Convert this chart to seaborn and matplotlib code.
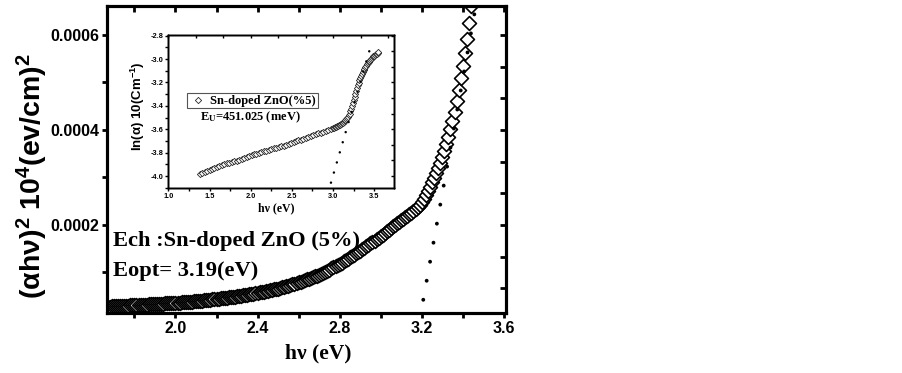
"""Tauc plot of Sn-doped ZnO (5%) with Urbach-energy inset."""
import matplotlib

matplotlib.use("Agg")
import matplotlib.pyplot as plt
import numpy as np
import seaborn as sns
from matplotlib.ticker import AutoMinorLocator, FormatStrFormatter, MultipleLocator

sns.set_theme(style="white")
SANS = ["Liberation Sans", "DejaVu Sans"]
SERIF = ["Liberation Serif", "DejaVu Serif"]
plt.rcParams["font.family"] = SANS
plt.rcParams["font.weight"] = "bold"
plt.rcParams["axes.labelweight"] = "bold"
plt.rcParams["axes.unicode_minus"] = False
for key in ("text.color", "axes.labelcolor", "xtick.color", "ytick.color"):
    plt.rcParams[key] = "black"

# ---- main panel: (alpha h nu)^2 against photon energy (eV), 0.01 eV sampling grid
main_energy = np.arange(160, 347) / 100
main_signal_e5 = [
    2.50, 2.54, 2.58, 2.62, 2.66, 2.70, 2.74, 2.78, 2.82, 2.86,
    2.90, 2.92, 2.94, 2.96, 2.98, 3.00, 3.02, 3.04, 3.06, 3.08,
    3.10, 3.12, 3.15, 3.17, 3.20, 3.22, 3.25, 3.27, 3.30, 3.32,
    3.35, 3.37, 3.40, 3.42, 3.45, 3.47, 3.50, 3.52, 3.55, 3.57,
    3.60, 3.63, 3.67, 3.70, 3.74, 3.77, 3.81, 3.84, 3.88, 3.91,
    3.95, 3.99, 4.04, 4.08, 4.13, 4.17, 4.22, 4.26, 4.31, 4.35,
    4.40, 4.46, 4.52, 4.58, 4.64, 4.70, 4.76, 4.82, 4.88, 4.94,
    5.00, 5.07, 5.14, 5.21, 5.28, 5.35, 5.42, 5.49, 5.56, 5.63,
    5.70, 5.79, 5.88, 5.97, 6.06, 6.15, 6.24, 6.33, 6.42, 6.51,
    6.60, 6.72, 6.85, 6.97, 7.10, 7.23, 7.36, 7.49, 7.62, 7.76,
    7.90, 8.05, 8.20, 8.36, 8.52, 8.68, 8.84, 9.00, 9.16, 9.33,
    9.50, 9.72, 9.94, 10.16, 10.38, 10.60, 10.84, 11.08, 11.32, 11.56,
    11.80, 12.07, 12.34, 12.62, 12.90, 13.18, 13.46, 13.74, 14.02, 14.31,
    14.60, 14.90, 15.20, 15.50, 15.80, 16.10, 16.40, 16.70, 17.00, 17.30,
    17.60, 17.96, 18.32, 18.68, 19.04, 19.40, 19.72, 20.04, 20.36, 20.68,
    21.00, 21.32, 21.64, 21.96, 22.28, 22.60, 22.98, 23.38, 23.82, 24.30,
    24.80, 25.50, 26.30, 27.15, 28.05, 29.00, 29.95, 30.95, 32.00, 33.10,
    34.30, 35.60, 37.00, 38.50, 40.10, 41.80, 43.80, 46.00, 48.40, 50.90,
    53.50, 56.30, 59.20, 62.50, 66.00, 69.50, 73.00,
]
main_signal = np.array(main_signal_e5) * 1e-5

# linear extrapolation of the absorption edge
eopt = 3.19
main_fit_slope = 2.415e-3
main_fit_energy = np.array([3.2076, 3.48])

# ---- inset: ln(alpha) against photon energy
inset_energy = np.concatenate([np.arange(138, 301, 3), np.arange(301, 356)]) / 100
inset_ln_alpha = [
    -3.980, -3.972, -3.963, -3.954, -3.945, -3.937, -3.929, -3.922, -3.915, -3.908,
    -3.900, -3.893, -3.887, -3.881, -3.875, -3.868, -3.860, -3.853, -3.845, -3.838,
    -3.830, -3.823, -3.816, -3.808, -3.800, -3.794, -3.788, -3.782, -3.776, -3.770,
    -3.764, -3.758, -3.752, -3.746, -3.740, -3.733, -3.725, -3.718, -3.710, -3.703,
    -3.695, -3.688, -3.680, -3.673, -3.665, -3.658, -3.650, -3.643, -3.635, -3.628,
    -3.620, -3.613, -3.605, -3.598, -3.590,
    -3.587, -3.584, -3.581, -3.578, -3.575, -3.571, -3.567, -3.563, -3.559, -3.555,
    -3.550, -3.544, -3.538, -3.531, -3.524, -3.515, -3.505, -3.494, -3.482, -3.468,
    -3.448, -3.425, -3.400, -3.374, -3.348, -3.322, -3.297, -3.272, -3.248, -3.225,
    -3.203, -3.182, -3.163, -3.145, -3.128, -3.112, -3.097, -3.083, -3.070, -3.058,
    -3.046, -3.035, -3.025, -3.015, -3.006, -2.998, -2.991, -2.984, -2.977, -2.971,
    -2.965, -2.959, -2.953, -2.948, -2.943,
]
inset_fit_energy = [2.974, 3.447]
inset_fit_ln = [-4.057, -2.914]


def _spines(axes, lw):
    for a in axes:
        for s in a.spines.values():
            s.set_linewidth(lw)
            s.set_color("black")
            s.set_visible(True)


fig = plt.figure(figsize=(9.03, 3.73), dpi=100)
fig.patch.set_facecolor("white")
ax = fig.add_axes([0.1182, 0.1609, 0.4422, 0.823])

sns.scatterplot(x=main_energy, y=main_signal, marker="D", s=50, facecolor="white",
                edgecolor="black", linewidth=1.2, legend=False, ax=ax, zorder=2)
ax.plot(main_fit_energy, main_fit_slope * (main_fit_energy - eopt), color="black",
        lw=2.8, linestyle=(0, (0.01, 4.96)), dash_capstyle="round", zorder=3)

ax.set_xlim(1.665, 3.611)
ax.set_ylim(1.47e-5, 6.61e-4)
ax.xaxis.set_major_locator(MultipleLocator(0.4))
ax.xaxis.set_minor_locator(MultipleLocator(0.2))
ax.yaxis.set_major_locator(MultipleLocator(0.0002))
ax.yaxis.set_minor_locator(MultipleLocator(0.0001))
ax.xaxis.set_major_formatter(FormatStrFormatter("%.1f"))
ax.yaxis.set_major_formatter(FormatStrFormatter("%.4f"))
ax.tick_params(which="both", direction="out", length=3.5, width=2, bottom=True,
               left=True, labelsize=11.5, pad=2)

ax_r = ax.twinx()
ax_r.set_ylim(ax.get_ylim())
ax_r.yaxis.set_major_locator(MultipleLocator(0.0002))
ax_r.yaxis.set_minor_locator(AutoMinorLocator(3))
ax_r.tick_params(which="both", direction="in", length=4, width=2, right=True,
                 labelright=False)
ax_t = ax.twiny()
ax_t.set_xlim(ax.get_xlim())
ax_t.xaxis.set_major_locator(MultipleLocator(0.4))
ax_t.xaxis.set_minor_locator(MultipleLocator(0.2))
ax_t.tick_params(which="both", direction="in", length=4, width=2, top=True,
                 labeltop=False)
ax_r.grid(False)
ax_t.grid(False)
_spines([ax, ax_r, ax_t], 2.2)

ax.set_xlabel("h\u03bd (eV)", family=SERIF, fontsize=15.5)
ax.xaxis.set_label_coords(0.529, -0.098)
ax.set_ylabel("(\u03b1h\u03bd)$\\mathregular{^2}$ 10$\\mathregular{^4}$(ev/cm)$\\mathregular{^2}$",
              family=SANS, fontsize=20.5)
ax.yaxis.set_label_coords(-0.143, 0.446)

ax.text(0.0165, 0.2166, "Ech :Sn-doped ZnO (5%)", transform=ax.transAxes,
        family=SERIF, fontsize=16.2, va="baseline")
ax.text(0.0165, 0.122, "Eopt= 3.19(eV)", transform=ax.transAxes,
        family=SERIF, fontsize=16.2, va="baseline")

# ---- inset
axin = fig.add_axes([0.1864, 0.4968, 0.2499, 0.4094])
axin.set_facecolor("white")
sns.scatterplot(x=inset_energy, y=inset_ln_alpha, marker="D", s=10, facecolor="white",
                edgecolor="#2a2a2a", linewidth=0.6, label="Sn-doped ZnO(%5)",
                legend=False, ax=axin, zorder=2)
axin.plot(inset_fit_energy, inset_fit_ln, color="black", lw=1.8,
          linestyle=(0, (0.01, 4.2)), dash_capstyle="round", zorder=3)

axin.set_xlim(1.0, 3.739)
axin.set_ylim(-4.10, -2.794)
axin.xaxis.set_major_locator(MultipleLocator(0.5))
axin.xaxis.set_minor_locator(MultipleLocator(0.25))
axin.yaxis.set_major_locator(MultipleLocator(0.2))
axin.yaxis.set_minor_locator(MultipleLocator(0.1))
axin.xaxis.set_major_formatter(FormatStrFormatter("%.1f"))
axin.yaxis.set_major_formatter(FormatStrFormatter("%.1f"))
axin.tick_params(which="both", direction="out", length=2, width=1, bottom=True,
                 left=True, labelsize=5.3, pad=1.5)

axin_r = axin.twinx()
axin_r.set_ylim(axin.get_ylim())
axin_r.yaxis.set_major_locator(MultipleLocator(0.4))
axin_r.yaxis.set_minor_locator(AutoMinorLocator(3))
axin_r.tick_params(which="both", direction="in", length=2, width=1, right=True,
                   labelright=False)
axin_t = axin.twiny()
axin_t.set_xlim(axin.get_xlim())
axin_t.xaxis.set_major_locator(MultipleLocator(1.0))
axin_t.xaxis.set_minor_locator(AutoMinorLocator(3))
axin_t.tick_params(which="both", direction="in", length=2, width=1, top=True,
                   labeltop=False)
axin_r.grid(False)
axin_t.grid(False)
_spines([axin, axin_r, axin_t], 1.0)

axin.set_xlabel("h\u03bd (eV)", family=SERIF, fontsize=8.5)
axin.xaxis.set_label_coords(0.477, -0.094)
axin.set_ylabel("ln(\u03b1) 10(Cm$\\mathregular{^{-1}}$)", family=SANS, fontsize=9.5)
axin.yaxis.set_label_coords(-0.096, 0.537)

leg = axin.legend(loc="upper left", bbox_to_anchor=(0.084, 0.622), borderaxespad=0,
                  frameon=True, fancybox=False, edgecolor="#555555", framealpha=1,
                  borderpad=0.15, handlelength=1.4, handletextpad=0.3, markerscale=1.0,
                  prop={"family": SERIF, "weight": "bold", "size": 9})
leg.get_frame().set_linewidth(0.8)
axin.text(0.14, 0.463, "E$\\mathregular{_U}$=451.025 (meV)", transform=axin.transAxes,
          family=SERIF, fontsize=9, va="center")

fig.savefig("out.png", dpi=100)
